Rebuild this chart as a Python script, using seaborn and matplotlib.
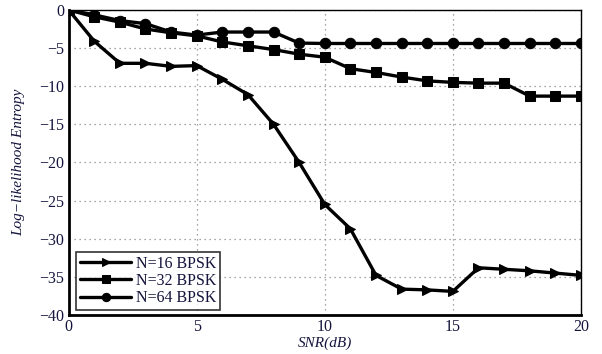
import matplotlib
matplotlib.use("Agg")
import matplotlib.pyplot as plt
import seaborn as sns
import numpy as np

snr = list(range(0, 21))
n16 = [0, -4.1, -7.0, -7.0, -7.4, -7.3, -9.1, -11.1, -15.0, -20.0, -25.5,
       -28.7, -34.8, -36.6, -36.7, -36.9, -33.8, -34.0, -34.2, -34.5, -34.8]
n32 = [0, -0.9, -1.6, -2.5, -3.0, -3.4, -4.2, -4.7, -5.2, -5.8, -6.2,
       -7.7, -8.2, -8.8, -9.3, -9.5, -9.6, -9.6, -11.3, -11.3, -11.3]
n64 = [0, -0.65, -1.4, -1.8, -2.9, -3.3, -2.9, -2.9, -2.9, -4.35, -4.4,
       -4.4, -4.4, -4.4, -4.4, -4.4, -4.4, -4.4, -4.4, -4.4, -4.4]
labels = ["N=16 BPSK", "N=32 BPSK", "N=64 BPSK"]
markers = [">", "s", "o"]
xticks = [0, 5, 10, 15, 20]
yticks = [0, -5, -10, -15, -20, -25, -30, -35, -40]

sns.set_style("white")
plt.rcParams["font.family"] = ["Liberation Serif", "DejaVu Serif"]
text_color = "#14143c"

fig = plt.figure(figsize=(6.02, 3.54), dpi=100)
ax = fig.add_axes([0.114, 0.110, 0.851, 0.862])

for vals, lab, mk in zip([n16, n32, n64], labels, markers):
    sns.lineplot(x=snr, y=vals, ax=ax, color="black", linewidth=2.4,
                 marker=mk, markersize=7.5, markeredgecolor="black",
                 label=lab)

ax.set_xlim(0, 20)
ax.set_ylim(-40, 0)
ax.set_xticks(xticks)
ax.set_yticks(yticks)
ax.set_yticklabels(["0"] + ["\u2212" + str(-v) for v in yticks[1:]])
ax.grid(True, linestyle=(0, (1, 3)), color="#888888", linewidth=0.9)
for s in ax.spines.values():
    s.set_color("black")
    s.set_linewidth(1.0)
ax.spines["left"].set_linewidth(2.0)
ax.spines["bottom"].set_linewidth(2.0)
ax.tick_params(axis="both", direction="in", length=4, color="black",
               labelsize=11.5, labelcolor=text_color, pad=3)

ax.set_xlabel("SNR(dB)", fontsize=11, style="italic", color=text_color, labelpad=1)
ax.set_ylabel("Log\u2212likelihood Entropy", fontsize=11, style="italic",
              color=text_color, labelpad=10)

leg = ax.legend(loc="lower left", frameon=True, fancybox=False, fontsize=11.5,
                handlelength=3.2, handletextpad=0.3, borderpad=0.25,
                labelspacing=0.08, borderaxespad=0.3,
                bbox_to_anchor=(0.005, 0.0))
leg.get_frame().set_edgecolor("black")
leg.get_frame().set_linewidth(1.2)
for t in leg.get_texts():
    t.set_color(text_color)
for h in leg.legend_handles:
    h.set_markersize(6)

fig.savefig("out.png", dpi=100)
